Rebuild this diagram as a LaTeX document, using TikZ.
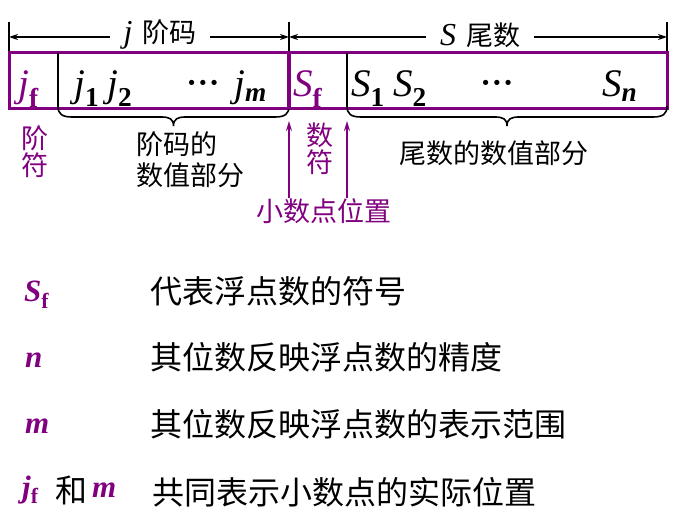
\documentclass[tikz,border=0pt]{standalone}
\usepackage{fontspec}
\setmainfont{Liberation Serif}
\newfontfamily\cjk{Noto Sans CJK SC}
\usetikzlibrary{arrows.meta}
\definecolor{zi}{RGB}{128,0,128}
\tikzset{
  hz/.style={font=\cjk\fontsize{27}{28}\selectfont,inner sep=0pt},
  hzbig/.style={font=\cjk\fontsize{32}{34}\selectfont,inner sep=0pt},
  sym/.style={font=\fontsize{39}{40}\selectfont,inner sep=0pt,anchor=base west},
  legsym/.style={font=\fontsize{31}{32}\selectfont\bfseries\itshape,zi,inner sep=0pt,anchor=base west},
  dimline/.style={line width=1.6pt,{Stealth[length=9pt,width=6pt]}-{Stealth[length=9pt,width=6pt]}},
  uparrow/.style={zi,line width=1.6pt,-{Stealth[length=10pt,width=6pt]}}
}
\newcommand\subf[1]{\textsubscript{\textbf{\upshape #1}}}
\newcommand\cdotsb{{\fontsize{32}{32}\selectfont\textbf{·\hspace{0.5pt}·\hspace{0.5pt}·}}}
\begin{document}
\begin{tikzpicture}[x=1pt,y=-1pt]
\useasboundingbox (0,0) rectangle (675,529);
\coordinate (L) at (9,37);
\coordinate (M) at (289,37);
\coordinate (R) at (667,37);

% dimension lines
\draw[line width=1.6pt] (9,22)--(9,53);
\draw[line width=1.6pt] (289,22)--(289,53);
\draw[line width=1.6pt] (667,22)--(667,53);
\draw[dimline] (L)--(M);
\draw[dimline] (M)--(R);
\node[fill=white,inner xsep=14pt,inner ysep=2pt,font=\fontsize{32}{32}\selectfont] (jdim) at (160,35) {\textit{j}\hspace{10pt}{\cjk\fontsize{27}{28}\selectfont 阶码}};
\node[fill=white,inner xsep=14pt,inner ysep=2pt,font=\fontsize{32}{32}\selectfont] (sdim) at (480,35) {\textit{S}\hspace{10pt}{\cjk\fontsize{27}{28}\selectfont 尾数}};

% the word
\draw[zi,line width=3pt] (9,53) rectangle (667,109);
\foreach \a/\b in {58/289,347/667}{
  \pgfmathsetmacro\m{(\a+\b)/2}
  \draw[line width=1.6pt] (\a,53)--(\a,106) .. controls (\a,114) and (\a+4,117) .. (\a+14,117)
    --(\m-12,117) .. controls (\m-4,117) and (\m,119) .. (\m,126)
    .. controls (\m,119) and (\m+4,117) .. (\m+12,117)
    --(\b-14,117) .. controls (\b-4,117) and (\b,114) .. (\b,106);
}
\draw[zi,line width=4.5pt] (289,53)--(289,109);

\node[sym,zi] (jf) at (18,97) {\textit{j}\subf{f}};
\node[sym] (j1) at (74,97) {\textit{j}\subf{1}};
\node[sym] (j2) at (107,97) {\textit{j}\subf{2}};
\node[sym,anchor=base] (jdots) at (203,94) {\cdotsb};
\node[sym] (jm) at (234,97) {\textit{j}\textsubscript{\textbf{\textit{m}}}};
\node[sym,zi] (sf) at (293,97) {\textit{S}\subf{f}};
\node[sym] (s1) at (351,97) {\textit{S}\subf{1}};
\node[sym] (s2) at (393,97) {\textit{S}\subf{2}};
\node[sym,anchor=base] (sdots) at (497,94) {\cdotsb};
\node[sym] (sn) at (602,97) {\textit{S}\textsubscript{\textbf{\textit{n}}}};

% labels under the word
\node[hz,zi,align=center] (jieFu) at (35,152) {阶\\[-1pt]符};
\node[hz,align=left,anchor=north west,font=\cjk\fontsize{27}{31}\selectfont] (jieVal) at (136,131) {阶码的\\数值部分};
\node[hz,zi,align=center] (shuFu) at (320,149) {数\\[-1pt]符};
\node[hz] (weiVal) at (494,153) {尾数的数值部分};
\node[hz,zi] (point) at (324,211) {小数点位置};
\coordinate (p1) at (289,121);
\coordinate (p2) at (347,121);
\draw[uparrow] (point.north -| p1) -- (p1);
\draw[uparrow] (point.north -| p2) -- (p2);

% legend
\node[legsym] (lsf) at (24,302) {S\subf{f}};
\node[hzbig,anchor=west] (tsf) at (150,291) {代表浮点数的符号};
\node[legsym] (ln) at (25,368) {n};
\node[hzbig,anchor=west] (tn) at (150,357) {其位数反映浮点数的精度};
\node[legsym] (lm) at (25,433) {m};
\node[hzbig,anchor=west] (tm) at (150,424) {其位数反映浮点数的表示范围};
\node[legsym] (ljf) at (22,497) {j\subf{f}};
\node[hzbig,anchor=west] (lhe) at (55,490) {和};
\node[legsym] (lm2) at (92,497) {m};
\node[hzbig,anchor=west] (tjf) at (152,492) {共同表示小数点的实际位置};
\end{tikzpicture}
\end{document}
